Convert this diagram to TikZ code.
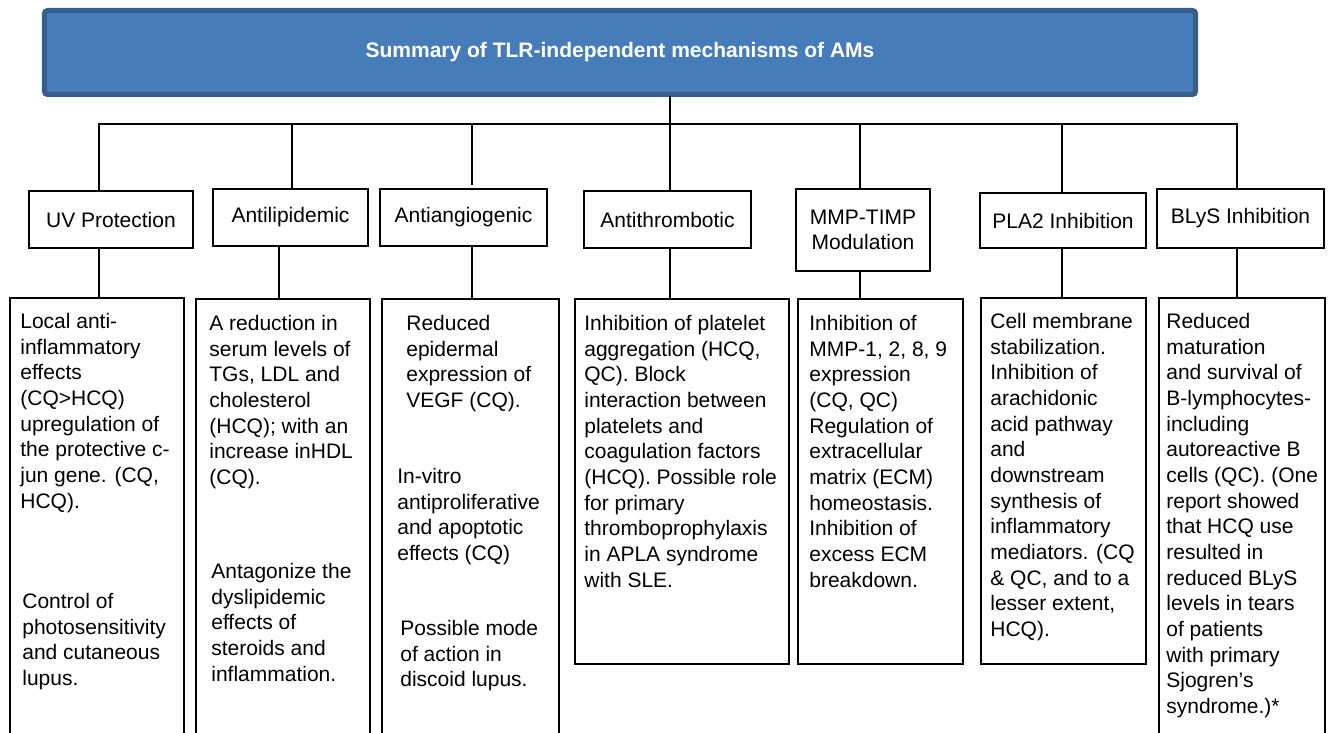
\documentclass[tikz,border=0pt]{standalone}
\usepackage{fontspec}
\setmainfont{Liberation Sans}
\usepackage{tikz}
\usetikzlibrary{positioning}
\definecolor{titleblue}{RGB}{70,124,186}
\definecolor{titleedge}{RGB}{56,94,140}
\newcommand{\boxfont}{\fontsize{11.95}{14.6}\selectfont}

\begin{document}
\begin{tikzpicture}[x=0.2mm, y=-0.2mm,
  titlebox/.style={draw=titleedge, fill=titleblue, line width=1mm, rounded corners=0.6mm, inner sep=0pt, text=white, font=\boxfont\bfseries},
  headbox/.style={draw, line width=0.4mm, inner sep=0pt, align=center, font=\boxfont},
  detbox/.style={draw, line width=0.4mm, inner sep=0pt, anchor=north west},
  dettext/.style={inner sep=0pt, align=left, font=\boxfont},
  link/.style={line width=0.4mm, line cap=rect}]
\useasboundingbox (0,0) rectangle (1330,733);
\clip (0,0) rectangle (1330,733);

% title
\node[titlebox, minimum width=230.2mm, minimum height=16.8mm] (title) at (620,52.5) {Summary of TLR-independent mechanisms of AMs};

% mechanisms
\node[headbox, minimum width=32.8mm, minimum height=11.4mm] (uv) at (111,219.5) {UV Protection};
\node[headbox, minimum width=31.0mm, minimum height=11.4mm] (lip) at (290.5,217.5) {Antilipidemic};
\node[headbox, minimum width=33.4mm, minimum height=11.4mm] (ang) at (463.5,217.5) {Antiangiogenic};
\node[headbox, minimum width=33.4mm, minimum height=11.4mm] (thr) at (667.5,219.5) {Antithrombotic};
\node[headbox, minimum width=26.8mm, minimum height=16.4mm] (mmp) at (863,230) {MMP-TIMP\\Modulation};
\node[headbox, minimum width=33.2mm, minimum height=11.0mm] (pla) at (1063,220.5) {PLA2 Inhibition};
\node[headbox, minimum width=33.4mm, minimum height=11.8mm] (bly) at (1240.5,218.5) {BLyS Inhibition};

% detail boxes
\node[detbox, minimum width=34.8mm, minimum height=100mm] (uvd) at (9,297) {};
\node[detbox, minimum width=34.8mm, minimum height=100mm] (lipd) at (195,298) {};
\node[detbox, minimum width=35.4mm, minimum height=100mm] (angd) at (381,298) {};
\node[detbox, minimum width=42.8mm, minimum height=73mm] (thrd) at (574,298) {};
\node[detbox, minimum width=33mm, minimum height=73mm] (mmpd) at (797,298) {};
\node[detbox, minimum width=33mm, minimum height=73.2mm] (plad) at (980,297) {};
\node[detbox, minimum width=33.2mm, minimum height=100mm] (blyd) at (1158,297) {};

% texts
\node[dettext, below right=3.2mm and 2.2mm of uvd.north west] (uvt1) {Local anti-\\inflammatory\\effects\\(CQ>HCQ)\\upregulation of\\the protective c-\\jun gene. (CQ,\\HCQ).};
\node[dettext, below right=59.2mm and 2.6mm of uvd.north west] (uvt2) {Control of\\photosensitivity\\and cutaneous\\lupus.};
\node[dettext, below right=3.4mm and 2.8mm of lipd.north west] (lipt1) {A reduction in\\serum levels of\\TGs, LDL and\\cholesterol\\(HCQ); with an\\increase inHDL\\(CQ).};
\node[dettext, below right=53mm and 3.2mm of lipd.north west] (lipt2) {Antagonize the\\dyslipidemic\\effects of\\steroids and\\inflammation.};
\node[dettext, below right=3.4mm and 5.0mm of angd.north west] (angt1) {Reduced\\epidermal\\expression of\\VEGF (CQ).};
\node[dettext, below right=34mm and 3.2mm of angd.north west] (angt2) {In-vitro\\antiproliferative\\and apoptotic\\effects (CQ)};
\node[dettext, below right=64.4mm and 3.8mm of angd.north west] (angt3) {Possible mode\\of action in\\discoid lupus.};
\node[dettext, below right=3.4mm and 2.0mm of thrd.north west] (thrt) {Inhibition of platelet\\aggregation (HCQ,\\QC). Block\\interaction between\\platelets and\\coagulation factors\\(HCQ). Possible role\\for primary\\thromboprophylaxis\\in APLA syndrome\\with SLE.};
\node[dettext, below right=3.4mm and 2.4mm of mmpd.north west] (mmpt) {Inhibition of\\MMP-1, 2, 8, 9\\expression\\(CQ, QC)\\Regulation of\\extracellular\\matrix (ECM)\\homeostasis.\\Inhibition of\\excess ECM\\breakdown.};
\node[dettext, below right=3.2mm and 2.0mm of plad.north west] (plat) {Cell membrane\\stabilization.\\Inhibition of\\arachidonic\\acid pathway\\and\\downstream\\synthesis of\\inflammatory\\mediators. (CQ\\\& QC, and to a\\lesser extent,\\HCQ).};
\node[dettext, below right=3.2mm and 1.6mm of blyd.north west] (blyt) {Reduced\\maturation\\and survival of\\B-lymphocytes-\\including\\autoreactive B\\cells (QC). (One\\report showed\\that HCQ use\\resulted in\\reduced BLyS\\levels in tears\\of patients\\with primary\\Sjogren’s\\syndrome.)*};

% connectors
\coordinate (j1) at (99,124);
\coordinate (j2) at (292,124);
\coordinate (j3) at (472,124);
\coordinate (j4) at (670,124);
\coordinate (j5) at (860,124);
\coordinate (j6) at (1062,124);
\coordinate (j7) at (1237,124);
\coordinate (k2) at (279,124);
\draw[link] (j4 |- title.south) -- (j4);
\draw[link] (j1) -- (j7);
\draw[link, shorten >=0.8mm] (j3) -- (j3 |- ang.north);
\draw[link] (j3 |- ang.south) -- (j3 |- angd.north);
\foreach \j/\k/\h/\d in {j1/j1/uv/uvd, j2/k2/lip/lipd, j4/j4/thr/thrd, j5/j5/mmp/mmpd, j6/j6/pla/plad, j7/j7/bly/blyd}{
  \draw[link] (\j) -- (\j |- \h.north);
  \draw[link] (\k |- \h.south) -- (\k |- \d.north);
}
\end{tikzpicture}
\end{document}
